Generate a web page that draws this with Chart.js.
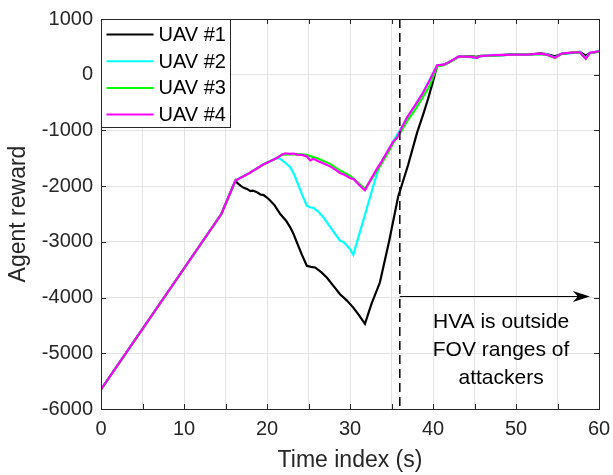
<!DOCTYPE html>
<html>
<head>
<meta charset="utf-8">
<script src="https://cdn.jsdelivr.net/npm/chart.js@4.4.0/dist/chart.umd.min.js"></script>
<style>
  html, body { margin: 0; padding: 0; background: #ffffff; }
  #wrap { width: 613px; height: 475px; }
</style>
</head>
<body>
<div id="wrap"><canvas id="c" width="613" height="475"></canvas></div>
<script>
// ---------------- data ----------------
const seriesNames = ['UAV #1', 'UAV #2', 'UAV #3', 'UAV #4'];
const seriesColors = ['#000000', '#00ffff', '#00ff00', '#ff00ff'];

const uav1T = [0, 14.5, 16.2, 16.4, 16.8, 17.2, 17.6, 18.0, 18.3, 18.8, 19.2, 19.6, 20.2, 20.9, 21.6, 22.3, 22.8, 23.2, 23.6, 24.2, 24.8, 25.3, 25.8, 26.5, 27.2, 28.0, 28.8, 29.6, 30.4, 31.1, 31.8,
               32.6, 33.6, 34.7, 35.8, 37.0, 38.1, 38.8, 39.4, 40.0, 40.5, 41.3, 42.0, 43.1, 44.5, 45.3, 45.7, 47.3, 48.5, 49.7, 51.3, 52.9, 53.7, 54.7, 55.5, 56.6, 57.7, 58.4, 58.9, 60];
const uav1V = [-5650, -2500, -1900, -1940, -1990, -2030, -2050, -2090, -2080, -2110, -2150, -2160, -2230, -2340, -2500, -2620, -2740, -2860, -3010, -3230, -3430, -3450, -3460, -3540, -3640, -3790, -3940, -4050, -4180, -4320, -4470,
               -4110, -3730, -3000, -2190, -1620, -1030, -720, -436, -120, 160, 180, 230, 320, 330, 320, 340, 345, 350, 370, 355, 385, 370, 330, 375, 390, 410, 340, 390, 415];

const uav2T = [0, 14.5, 16.2, 17.9, 19.5, 21.2, 21.6, 22.2, 22.8, 23.3, 23.8, 24.3, 24.8, 25.2, 25.6, 26.2, 26.8, 27.8, 28.8, 29.2, 29.6, 30.0, 30.4,
               31.2, 32.0, 32.8, 33.6, 34.4, 35.2, 36.9, 38.7, 40.5, 41.3, 42.0, 43.1, 44.5, 45.3, 45.7, 47.3, 48.5, 49.7, 51.3, 52.9, 53.7, 54.7, 55.5, 56.6, 57.7, 58.4, 58.9, 60];
const uav2V = [-5650, -2500, -1900, -1764, -1615, -1494, -1510, -1580, -1660, -1800, -1990, -2180, -2350, -2380, -2390, -2460, -2560, -2770, -2980, -3000, -3060, -3130, -3230,
               -2820, -2410, -2000, -1620, -1410, -1200, -770, -350, 170, 180, 235, 325, 315, 300, 330, 355, 350, 365, 360, 375, 365, 310, 380, 385, 400, 300, 395, 420];

const uav3T = [0, 14.5, 16.2, 17.9, 19.5, 21.2, 21.8, 23.6, 24.8, 25.4, 26.2, 27.6, 28.8, 30.0, 31.0, 31.8,
               33.2, 34.4, 35.2, 36.2, 36.9, 37.8, 38.7, 39.6, 40.5, 41.3, 42.0, 43.1, 44.5, 45.3, 45.7, 47.3, 48.5, 49.7, 51.3, 52.9, 53.7, 54.7, 55.5, 56.6, 57.7, 58.4, 58.9, 60];
const uav3V = [-5650, -2500, -1900, -1764, -1615, -1494, -1435, -1425, -1440, -1470, -1510, -1600, -1720, -1810, -1940, -2050,
               -1740, -1450, -1230, -1010, -830, -640, -420, -200, 150, 170, 225, 320, 325, 310, 335, 340, 355, 360, 365, 370, 360, 300, 370, 395, 395, 290, 385, 420];

const uav4T = [0, 14.5, 16.2, 17.9, 19.5, 21.2, 21.8, 22.2, 22.7, 23.2, 23.6, 24.2, 24.8, 25.2, 25.6, 26.2, 26.9, 27.6, 28.2, 28.8, 29.4, 30.0, 30.5, 31.0, 31.6, 31.8,
               32.5, 33.2, 33.8, 34.4, 35.2, 35.7, 36.2, 36.9, 37.8, 38.7, 39.6, 40.5, 41.3, 42.0, 43.1, 44.5, 45.3, 45.7, 47.3, 48.5, 49.7, 51.3, 52.9, 53.7, 54.7, 55.5, 56.6, 57.7, 58.4, 58.9, 60];
const uav4V = [-5650, -2500, -1900, -1764, -1615, -1494, -1435, -1410, -1420, -1415, -1435, -1440, -1465, -1537, -1507, -1555, -1600, -1645, -1700, -1764, -1800, -1854, -1880, -1960, -2050, -2075,
               -1880, -1700, -1560, -1404, -1200, -1130, -960, -760, -560, -350, -100, 170, 180, 230, 330, 320, 303, 332, 350, 355, 362, 362, 380, 362, 303, 380, 395, 403, 285, 393, 421];

const xTickValues = [0, 10, 20, 30, 40, 50, 60];
const yTickValues = [-6000, -5000, -4000, -3000, -2000, -1000, 0, 1000];

// annotation values (data units)
const markerTime = [36.0];
const arrowSpan = [36.0, 58.9];
const arrowLevel = [-3970];
const noteLines = ['HVA is outside', 'FOV ranges of', 'attackers'];
const noteAnchor = [48.2, -4440];

// ---------------- chart ----------------
const seriesT = [uav1T, uav2T, uav3T, uav4T];
const seriesV = [uav1V, uav2V, uav3V, uav4V];

const datasets = seriesNames.map((name, i) => ({
  label: name,
  data: seriesT[i].map((t, k) => ({ x: t, y: seriesV[i][k] })),
  borderColor: seriesColors[i],
  backgroundColor: seriesColors[i],
  borderWidth: 2.2,
  pointRadius: 0,
  showLine: true,
  tension: 0,
  fill: false,
  order: 4 - i
}));

const FONT = "'Liberation Sans', Arial, Helvetica, sans-serif";
const AXIS_COLOR = '#262626';

const boxAndTicks = {
  id: 'boxAndTicks',
  afterDraw(chart) {
    const { ctx, chartArea: a, scales } = chart;
    ctx.save();
    ctx.strokeStyle = AXIS_COLOR;
    ctx.lineWidth = 1;
    ctx.beginPath();
    const tl = 5;
    for (let v = 0; v <= 60; v += 5) {
      const px = Math.round(scales.x.getPixelForValue(v)) + 0.5;
      ctx.moveTo(px, a.bottom); ctx.lineTo(px, a.bottom - tl);
      ctx.moveTo(px, a.top); ctx.lineTo(px, a.top + tl);
    }
    for (const v of yTickValues) {
      const py = Math.round(scales.y.getPixelForValue(v)) + 0.5;
      ctx.moveTo(a.left, py); ctx.lineTo(a.left + tl, py);
      ctx.moveTo(a.right, py); ctx.lineTo(a.right - tl, py);
    }
    ctx.stroke();
    ctx.strokeRect(Math.round(a.left) + 0.5, Math.round(a.top) + 0.5,
                   Math.round(a.right - a.left), Math.round(a.bottom - a.top));
    ctx.restore();
  }
};

const annotations = {
  id: 'annotations',
  afterDatasetsDraw(chart) {
    const { ctx, chartArea: a, scales } = chart;
    ctx.save();
    const mx = scales.x.getPixelForValue(markerTime[0]);
    ctx.strokeStyle = '#000000';
    ctx.lineWidth = 1.5;
    ctx.setLineDash([9, 5]);
    ctx.beginPath();
    ctx.moveTo(mx, a.top);
    ctx.lineTo(mx, a.bottom);
    ctx.stroke();
    ctx.setLineDash([]);
    const x0 = scales.x.getPixelForValue(arrowSpan[0]);
    const x1 = scales.x.getPixelForValue(arrowSpan[1]);
    const ay = Math.round(scales.y.getPixelForValue(arrowLevel[0])) + 0.5;
    ctx.lineWidth = 1;
    ctx.beginPath();
    ctx.moveTo(x0, ay);
    ctx.lineTo(x1 - 8, ay);
    ctx.stroke();
    ctx.fillStyle = '#000000';
    ctx.beginPath();
    ctx.moveTo(x1, ay);
    ctx.lineTo(x1 - 17, ay - 5.5);
    ctx.lineTo(x1 - 12, ay);
    ctx.lineTo(x1 - 17, ay + 5.5);
    ctx.closePath();
    ctx.fill();
    const tx = scales.x.getPixelForValue(noteAnchor[0]);
    const ty = scales.y.getPixelForValue(noteAnchor[1]);
    ctx.font = '21px ' + FONT;
    ctx.fillStyle = '#000000';
    ctx.textAlign = 'center';
    ctx.textBaseline = 'middle';
    noteLines.forEach((s, i) => ctx.fillText(s, tx, ty + i * 28));
    ctx.restore();
  }
};

const boxLegend = {
  id: 'boxLegend',
  afterDraw(chart) {
    const { ctx, chartArea: a } = chart;
    ctx.save();
    const left = Math.round(a.left) + 0.5, top = Math.round(a.top) + 0.5;
    const w = 129, h = 108;
    ctx.fillStyle = '#ffffff';
    ctx.fillRect(left, top, w, h);
    ctx.strokeStyle = '#262626';
    ctx.lineWidth = 1;
    ctx.strokeRect(left, top, w, h);
    ctx.font = '20px ' + FONT;
    ctx.textAlign = 'left';
    ctx.textBaseline = 'middle';
    seriesNames.forEach((name, i) => {
      const y = top + 15 + i * 26.7;
      ctx.strokeStyle = seriesColors[i];
      ctx.lineWidth = 2;
      ctx.beginPath();
      ctx.moveTo(left + 5, y);
      ctx.lineTo(left + 52, y);
      ctx.stroke();
      ctx.fillStyle = '#000000';
      ctx.fillText(name, left + 57, y + 1);
    });
    ctx.restore();
  }
};

new Chart(document.getElementById('c'), {
  type: 'scatter',
  data: { datasets },
  options: {
    responsive: false,
    animation: false,
    events: [],
    layout: { padding: { left: 0, right: 14, top: 19, bottom: 0 } },
    plugins: { legend: { display: false }, tooltip: { enabled: false } },
    scales: {
      x: {
        type: 'linear',
        min: 0, max: 60,
        afterBuildTicks: (s) => { s.ticks = [0,5,10,15,20,25,30,35,40,45,50,55,60].map(v => ({ value: v })); },
        afterFit: (s) => { s.height = 66; s.paddingLeft = 0; s.paddingRight = 0; },
        ticks: {
          autoSkip: false,
          maxRotation: 0,
          padding: 8,
          color: AXIS_COLOR,
          font: { family: FONT, size: 20 },
          callback: (v) => (xTickValues.includes(v) ? String(v) : '')
        },
        grid: { color: '#e3e3e3', lineWidth: 1, drawTicks: false },
        border: { display: false },
        title: {
          display: true,
          text: 'Time index (s)',
          color: AXIS_COLOR,
          font: { family: FONT, size: 23 },
          padding: { top: 0, bottom: 1 }
        }
      },
      y: {
        type: 'linear',
        min: -6000, max: 1000,
        afterBuildTicks: (s) => { s.ticks = yTickValues.map(v => ({ value: v })); },
        afterFit: (s) => { s.width = 101; s.paddingTop = 0; s.paddingBottom = 0; },
        ticks: {
          autoSkip: false,
          padding: 8,
          color: AXIS_COLOR,
          font: { family: FONT, size: 20 },
          callback: (v) => String(v)
        },
        grid: { color: '#e3e3e3', lineWidth: 1, drawTicks: false },
        border: { display: false },
        title: {
          display: true,
          text: 'Agent reward',
          color: AXIS_COLOR,
          font: { family: FONT, size: 23 },
          padding: { top: 5, bottom: 0 }
        }
      }
    }
  },
  plugins: [annotations, boxAndTicks, boxLegend]
});
</script>
</body>
</html>
